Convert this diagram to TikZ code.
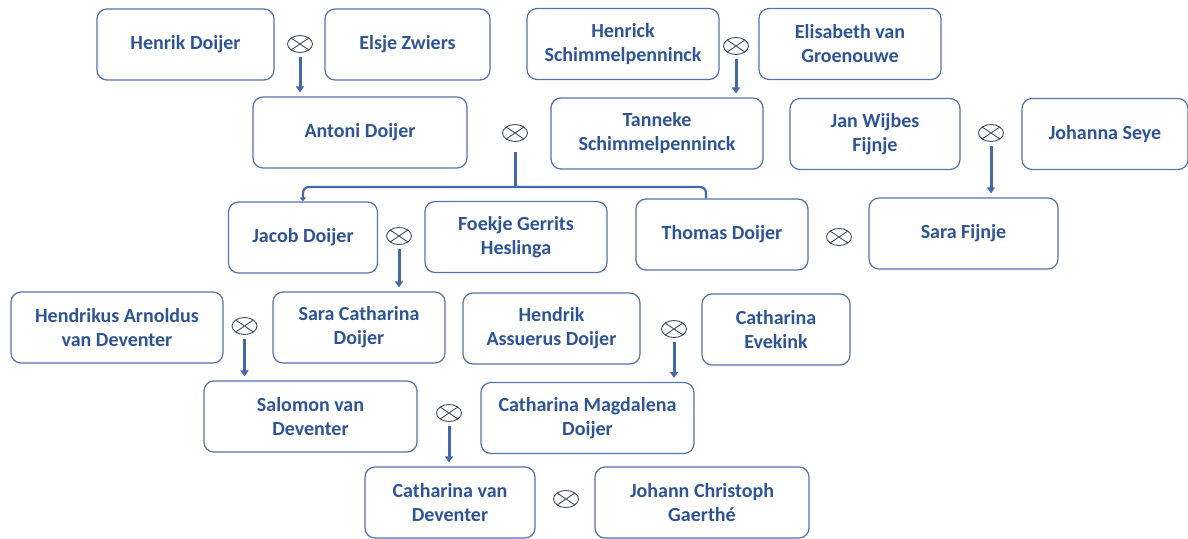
\documentclass[tikz,border=0pt]{standalone}
\usepackage{fontspec}
\setmainfont{Carlito}
\usetikzlibrary{
    shapes.geometric,
    arrows.meta,
    positioning,
    calc
}
\definecolor{bgWhite}{RGB}{255, 255, 255}
\definecolor{nameBlue}{RGB}{47, 84, 150}
\definecolor{boxBlue}{RGB}{84, 114, 172}
\definecolor{lineBlue}{RGB}{68, 104, 172}
\definecolor{ringGray}{RGB}{66, 74, 104}
\tikzset{
    person/.style={
        rectangle,
        rounded corners=10pt,
        draw=boxBlue,
        line width=1.2pt,
        fill=bgWhite,
        minimum height=71pt,
        inner sep=2pt,
        text=nameBlue,
        align=center,
        font=\fontsize{20}{24}\selectfont\bfseries
    },
    wed/.style={
        ellipse,
        draw=ringGray,
        line width=0.9pt,
        minimum width=25pt,
        minimum height=17pt,
        inner sep=0pt,
        path picture={
            \draw[ringGray, line width=0.9pt]
                (path picture bounding box.north west) -- (path picture bounding box.south east)
                (path picture bounding box.north east) -- (path picture bounding box.south west);
        }
    },
    descent/.style={
        draw=lineBlue,
        line width=3pt,
        shorten <=4pt,
        shorten >=4pt,
        -{Triangle[width=8pt, length=6pt]}
    },
    branch/.style={
        draw=lineBlue,
        line width=2.2pt,
        rounded corners=6pt
    }
}

\begin{document}
\begin{tikzpicture}[x=1pt, y=-1pt]
    \useasboundingbox (0,0) rectangle (1188,538);
    \fill[bgWhite] (0,0) rectangle (1188,538);

    % Generation 1
    \node[person, minimum width=177pt] (henrik) at (185.5, 44.5) {Henrik Doijer};
    \node[wed] (w1) at (300, 44) {};
    \node[person, minimum width=165pt] (elsje) at (407.5, 44.5) {Elsje Zwiers};
    \node[person, minimum width=192pt] (henrick) at (623, 44) {Henrick\\Schimmelpenninck};
    \node[wed] (w2) at (736, 46) {};
    \node[person, minimum width=182pt] (elisabeth) at (850, 44) {Elisabeth van\\Groenouwe};

    % Generation 2
    \node[person, minimum width=214pt] (antoni) at (360, 132.5) {Antoni Doijer};
    \node[wed] (w3) at (515, 133) {};
    \node[person, minimum width=212pt] (tanneke) at (657, 133.5) {Tanneke\\Schimmelpenninck};
    \node[person, minimum width=170pt] (jan) at (875, 134) {Jan Wijbes\\Fijnje};
    \node[wed] (w4) at (991, 133) {};
    \node[person, minimum width=166pt] (johanna) at (1105, 134) {Johanna Seye};

    % Generation 3
    \node[person, minimum width=149pt] (jacob) at (303, 237.5) {Jacob Doijer};
    \node[wed] (w6) at (399, 236) {};
    \node[person, minimum width=182pt] (foekje) at (516, 237) {Foekje Gerrits\\Heslinga};
    \node[person, minimum width=172pt] (thomas) at (722, 234.5) {Thomas Doijer};
    \node[wed] (w5) at (839, 237) {};
    \node[person, minimum width=189pt] (sara) at (963.5, 233.5) {Sara Fijnje};

    % Generation 4
    \node[person, minimum width=212pt] (hendrikus) at (117, 327.5) {Hendrikus Arnoldus\\van Deventer};
    \node[wed] (w7) at (244.5, 326) {};
    \node[person, minimum width=172pt] (saracath) at (359, 327.5) {Sara Catharina\\Doijer};
    \node[person, minimum width=177pt] (hendrik) at (551.5, 328.5) {Hendrik\\Assuerus Doijer};
    \node[wed] (w8) at (674, 329) {};
    \node[person, minimum width=148pt] (evekink) at (776, 329.5) {Catharina\\Evekink};

    % Generation 5
    \node[person, minimum width=213pt] (salomon) at (310.5, 416.5) {Salomon van\\Deventer};
    \node[wed] (w9) at (449, 413) {};
    \node[person, minimum width=213pt] (magdalena) at (587.5, 418) {Catharina Magdalena\\Doijer};

    % Generation 6
    \node[person, minimum width=170pt] (catharina) at (450, 502.5) {Catharina van\\Deventer};
    \node[wed] (w10) at (566, 499) {};
    \node[person, minimum width=214pt] (johann) at (702, 502.5) {Johann Christoph\\Gaerthé};

    % Edges
    \draw[descent] (w1.south) -- (w1.south |- antoni.north);
    \draw[descent] (w2.south) -- (w2.south |- tanneke.north);
    \draw[descent] (w4.south) -- (w4.south |- sara.north);
    \draw[descent] (w6.south) -- (w6.south |- saracath.north);
    \draw[descent] (w7.south) -- (w7.south |- salomon.north);
    \draw[descent] (w8.south) -- (w8.south |- magdalena.north);
    \draw[descent] (w9.south) -- (w9.south |- catharina.north);

    % Children of Antoni and Tanneke
    \draw[lineBlue, line width=3pt, shorten <=10pt] (w3.south) -- ++(0, 45) coordinate (fork);
    \draw[branch, -{Triangle[width=6pt, length=4pt]}] (fork) -| (jacob.north);
    \draw[branch] (fork) -| ([xshift=-16pt]thomas.north);
\end{tikzpicture}
\end{document}
